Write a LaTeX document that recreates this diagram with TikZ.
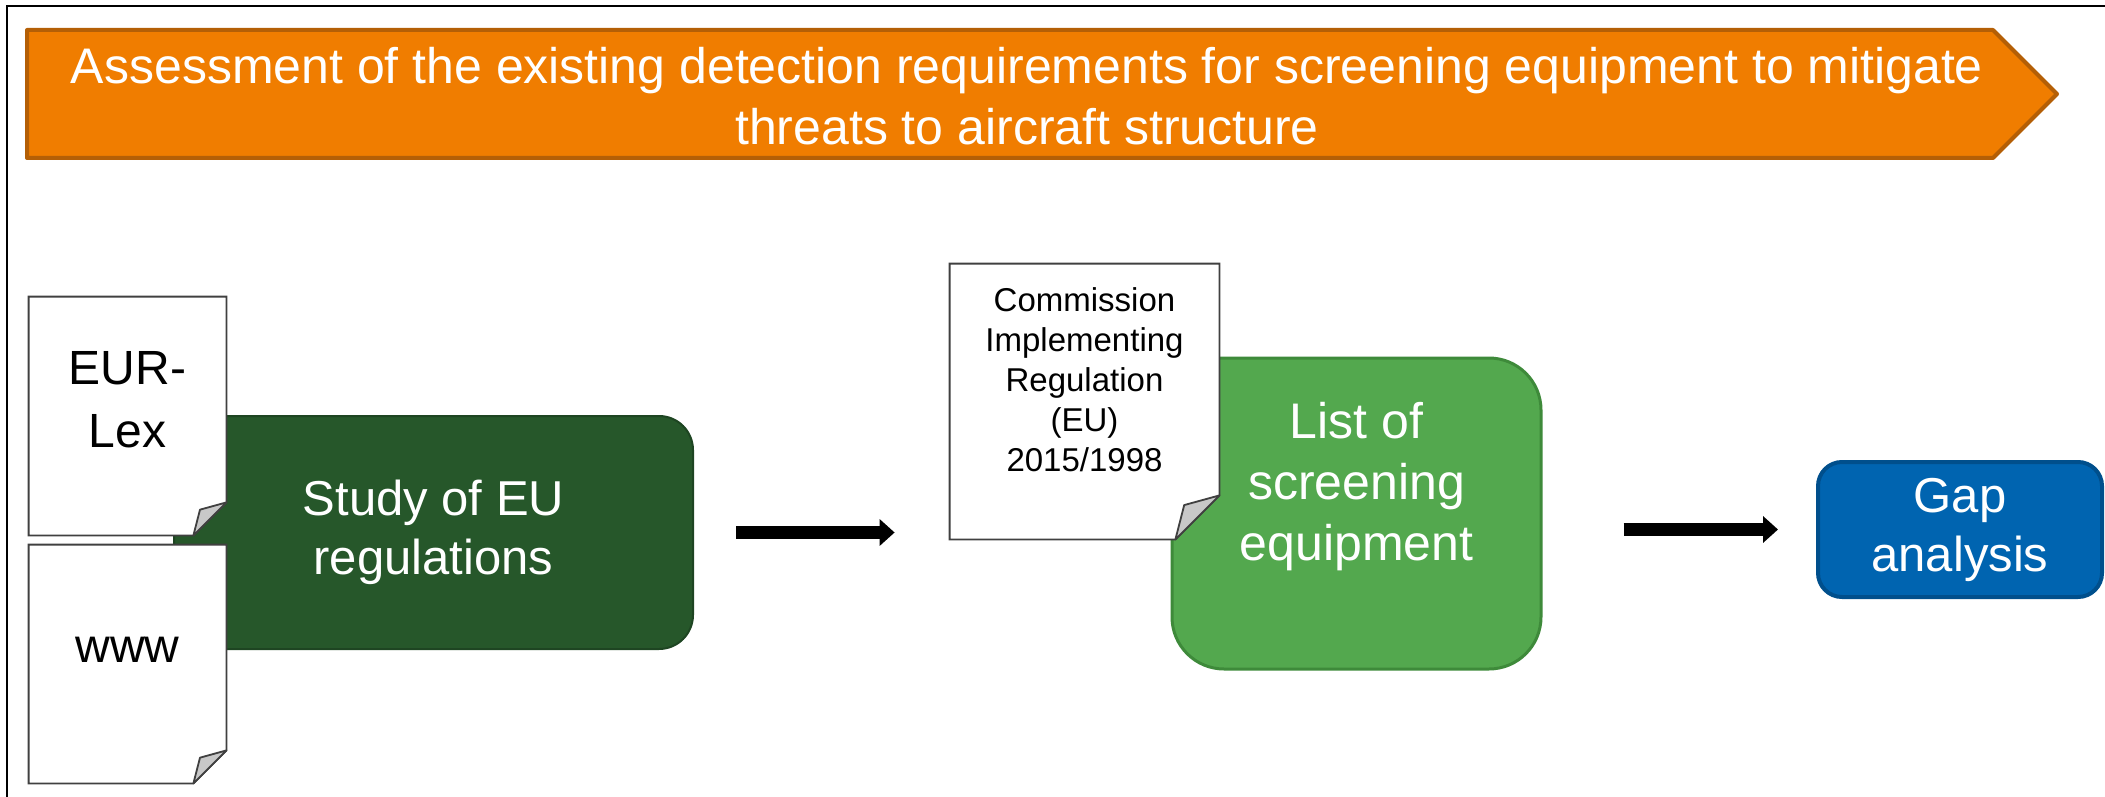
\documentclass[tikz,border=0pt]{standalone}
\usepackage{fontspec}
\setmainfont{Liberation Sans}
\usetikzlibrary{arrows.meta}

\definecolor{bannerOrange}{HTML}{F07D00}
\definecolor{bannerLine}{HTML}{B45F06}
\definecolor{studyGreen}{HTML}{26572A}
\definecolor{studyLine}{HTML}{1E4522}
\definecolor{listGreen}{HTML}{53A84E}
\definecolor{listLine}{HTML}{3E8A3A}
\definecolor{gapBlue}{HTML}{0064B0}
\definecolor{gapLine}{HTML}{004F8C}
\definecolor{paperLine}{HTML}{404040}
\definecolor{foldGrey}{HTML}{C8C8C8}

\begin{document}
\begin{tikzpicture}[x=0.5pt, y=-0.5pt,
		outerFrame/.style={line width=1pt, black},
		banner/.style={fill=bannerOrange, draw=bannerLine, line width=2pt, line join=round},
		box/.style={rounded corners=#1, inner sep=0pt, align=center, text=white},
		paper/.style={inner sep=0pt},
		paperEdge/.style={fill=white, draw=paperLine, line width=0.9pt},
		foldEdge/.style={fill=foldGrey, draw=paperLine, line width=0.9pt, line join=round},
		lightText/.style={align=center, text=white, inner sep=0pt},
		darkText/.style={align=center, text=black, inner sep=0pt},
		flow/.style={line width=6.5pt, -{Triangle[length=7.5pt, width=13pt]}},
	]
		\newcommand*{\titleFont}{\fontsize{25}{30.5}\selectfont}
		\newcommand*{\boxFont}{\fontsize{24.5}{29.5}\selectfont}
		\newcommand*{\paperFont}{\fontsize{24}{31.5}\selectfont}
		\newcommand*{\smallFont}{\fontsize{16.5}{20}\selectfont}
		\newcommand*{\drawPaper}[2]{%
			\filldraw[paperEdge] (#1.north west) -- (#1.north east)
				-- ([yshift=#2]#1.south east) -- ([xshift=-#2]#1.south east)
				-- (#1.south west) -- cycle;
			\filldraw[foldEdge] ([xshift=-#2]#1.south east)
				-- ([xshift=-0.8*#2, yshift=0.78*#2]#1.south east)
				-- ([yshift=#2]#1.south east) -- cycle;
		}

		\useasboundingbox (0,0) rectangle (2105,797);

		\coordinate(Title) at	(1027,96);
		\coordinate(Study) at	(433.5,532.5);
		\coordinate(List) at	(1356.5,513.5);
		\coordinate(Gap) at	(1960,529.5);
		\coordinate(EurLex) at	(127.5,416);
		\coordinate(Www) at	(127.5,664);
		\coordinate(Cir) at	(1084.5,401.5);

		\draw[outerFrame] (7,797) -- (7,6) -- (2105,6);

		\draw[banner] (27,30) -- (1993,30) -- (2057,94) -- (1993,158) -- (27,158) -- cycle;
		\node[lightText, font=\titleFont] (title) at (Title)
			{Assessment of the existing detection requirements for screening equipment to mitigate\\threats to aircraft structure};

		\node[box=17pt, fill=studyGreen, draw=studyLine, line width=1pt,
			minimum width=259.5pt, minimum height=116.5pt, font=\boxFont] (study) at (Study)
			{Study of EU\\regulations};
		\node[box=26pt, fill=listGreen, draw=listLine, line width=1.5pt,
			minimum width=184.5pt, minimum height=155.5pt] (list) at (List) {};
		\node[box=12pt, fill=gapBlue, draw=gapLine, line width=2pt,
			minimum width=142pt, minimum height=67.5pt, font=\boxFont] (gap) at (Gap)
			{Gap\\analysis};

		\node[paper, minimum width=98.5pt, minimum height=119pt] (eurLex) at (EurLex) {};
		\node[paper, minimum width=98.5pt, minimum height=119pt] (www) at (Www) {};
		\node[paper, minimum width=134.5pt, minimum height=137.5pt] (cir) at (Cir) {};

		\drawPaper{eurLex}{16.5pt}
		\drawPaper{www}{16.5pt}
		\drawPaper{cir}{22pt}

		\node[darkText, font=\paperFont] (eurLexText) at ([yshift=8pt]eurLex.center) {EUR-\\Lex};
		\node[darkText, font=\paperFont] (wwwText) at ([yshift=7pt]www.center) {www};
		\node[darkText, font=\smallFont] (cirText) at ([yshift=10.75pt]cir.center)
			{Commission\\Implementing\\Regulation\\(EU)\\2015/1998};
		\node[lightText, font=\fontsize{25}{30.5}\selectfont] (listText) at ([yshift=13.5pt]list.center)
			{List of\\screening\\equipment};

		\draw[flow, shorten <=21pt, shorten >=27.5pt] (study.east) -- (study.east -| cir.west);
		\draw[flow, shorten <=40.5pt, shorten >=19pt] (list.east |- gap.west) -- (gap.west);
\end{tikzpicture}
\end{document}
